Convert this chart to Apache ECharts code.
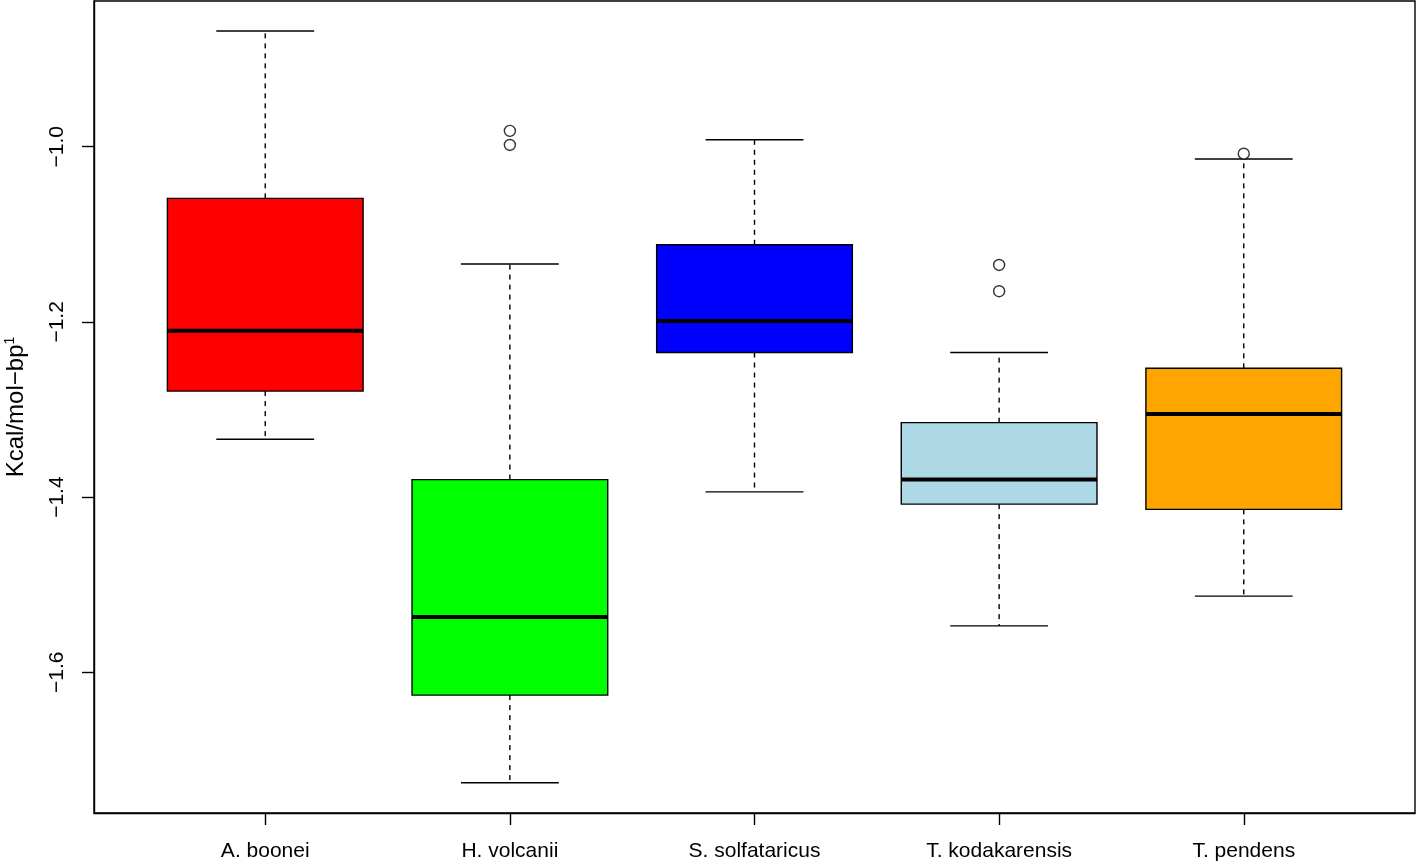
<!DOCTYPE html>
<html>
<head>
<meta charset="utf-8">
<script src="https://cdn.jsdelivr.net/npm/echarts@6/dist/echarts.min.js"></script>
<style>
html,body{margin:0;padding:0;background:#fff;}
#chart{width:1416px;height:864px;}
</style>
</head>
<body>
<div id="chart"></div>
<script>
// ---- data ----
const categories = ['A. boonei', 'H. volcanii', 'S. solfataricus', 'T. kodakarensis', 'T. pendens'];
const boxColors = ['#FF0000', '#00FF00', '#0000FF', '#ADD8E6', '#FFA500'];
// [lower whisker, Q1, median, Q3, upper whisker]
const boxStats = [
  [-1.334, -1.279, -1.210, -1.059, -0.868],
  [-1.726, -1.626, -1.537, -1.380, -1.134],
  [-1.394, -1.235, -1.199, -1.112, -0.992],
  [-1.547, -1.408, -1.380, -1.315, -1.235],
  [-1.513, -1.414, -1.305, -1.253, -1.014]
];
// [category index (1-based), value]
const outliers = [
  [2, -0.982], [2, -0.998],
  [4, -1.135], [4, -1.165],
  [5, -1.008]
];
const yTicks = [-1.6, -1.4, -1.2, -1.0];
const xTicks = [1, 2, 3, 4, 5];

const boxData = boxStats.map((s, i) => [i + 1].concat(s));

const chart = echarts.init(document.getElementById('chart'), null, {renderer: 'canvas'});
const font = 'Liberation Sans, Arial, Helvetica, sans-serif';

function renderBox(params, api) {
  const x = api.value(0);
  const lo = api.value(1), q1 = api.value(2), med = api.value(3), q3 = api.value(4), hi = api.value(5);
  const halfW = api.size([0.4, 0])[0];
  const capW = halfW / 2;
  const pLo = api.coord([x, lo]);
  const pQ1 = api.coord([x, q1]);
  const pMed = api.coord([x, med]);
  const pQ3 = api.coord([x, q3]);
  const pHi = api.coord([x, hi]);
  const cx = pLo[0];
  const color = boxColors[params.dataIndex];
  const dashStyle = {stroke: '#000', lineWidth: 1.4, lineDash: [5, 5], fill: null};
  const solid = {stroke: '#000', lineWidth: 1.4, fill: null};
  return {
    type: 'group',
    children: [
      {type: 'line', shape: {x1: cx, y1: pQ3[1], x2: cx, y2: pHi[1]}, style: dashStyle},
      {type: 'line', shape: {x1: cx, y1: pQ1[1], x2: cx, y2: pLo[1]}, style: dashStyle},
      {type: 'line', shape: {x1: cx - capW, y1: pHi[1], x2: cx + capW, y2: pHi[1]}, style: solid},
      {type: 'line', shape: {x1: cx - capW, y1: pLo[1], x2: cx + capW, y2: pLo[1]}, style: solid},
      {type: 'rect', shape: {x: cx - halfW, y: pQ3[1], width: 2 * halfW, height: pQ1[1] - pQ3[1]},
        style: {fill: color, stroke: '#000', lineWidth: 1.4}},
      {type: 'line', shape: {x1: cx - halfW, y1: pMed[1], x2: cx + halfW, y2: pMed[1]},
        style: {stroke: '#000', lineWidth: 4}}
    ]
  };
}

const option = {
  backgroundColor: '#fff',
  animation: false,
  grid: {left: 94, right: 1, top: 1, bottom: 51, outerBoundsMode: 'none', containLabel: false,
    show: true, borderColor: '#000', borderWidth: 1.4, backgroundColor: 'transparent'},
  xAxis: {
    type: 'value',
    min: 0.3,
    max: 5.7,
    splitLine: {show: false},
    axisLine: {show: true, onZero: false, lineStyle: {color: '#000', width: 1.4}},
    axisTick: {show: true, customValues: xTicks, length: 12, inside: false, lineStyle: {color: '#000', width: 1.4}},
    axisLabel: {
      customValues: xTicks,
      formatter: v => categories[Math.round(v) - 1] || '',
      color: '#000', fontSize: 21, fontFamily: font, margin: 28
    }
  },
  yAxis: {
    type: 'value',
    min: -1.7606,
    max: -0.8337,
    splitLine: {show: false},
    axisLine: {show: true, onZero: false, lineStyle: {color: '#000', width: 1.4}},
    axisTick: {show: true, customValues: yTicks, length: 12, inside: false, lineStyle: {color: '#000', width: 1.4}},
    axisLabel: {
      customValues: yTicks,
      formatter: v => (v < 0 ? '\u2212' : '') + Math.abs(v).toFixed(1),
      rotate: 90,
      color: '#000', fontSize: 21, fontFamily: font, margin: 26
    },
    name: 'Kcal/mol\u2212bp{sup|1}',
    nameLocation: 'middle',
    nameRotate: 90,
    nameGap: 65,
    nameTextStyle: {
      color: '#000', fontSize: 24, fontFamily: font,
      rich: {sup: {fontSize: 14, fontFamily: font, color: '#000', verticalAlign: 'top', padding: [0, 0, 12, 0]}}
    }
  },
  series: [
    {
      type: 'custom',
      renderItem: renderBox,
      data: boxData,
      encode: {x: 0, y: [1, 2, 3, 4, 5]},
      z: 2
    },
    {
      type: 'scatter',
      data: outliers,
      symbol: 'circle',
      symbolSize: 11,
      itemStyle: {color: '#fff', borderColor: '#000', borderWidth: 1.4},
      z: 3
    }
  ]
};
chart.setOption(option);
</script>
</body>
</html>
